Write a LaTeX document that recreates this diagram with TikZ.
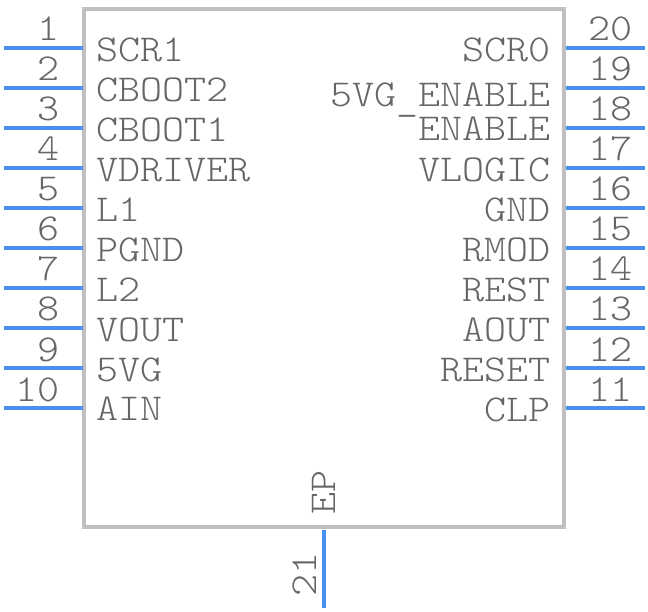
\documentclass[tikz,border=0pt]{standalone}
\usepackage{fontspec}
\setmonofont{Latin Modern Mono Light}
\definecolor{pinblue}{HTML}{4A90F0}
\definecolor{bodygray}{HTML}{BFBFBF}
\definecolor{textgray}{HTML}{666666}
\tikzset{
  bodyline/.style={draw=bodygray,line width=3.2pt},
  pinline/.style={draw=pinblue,line width=4pt},
  pintext/.style={inner sep=0pt,text=textgray,font=\fontsize{38}{40}\ttfamily},
  widetext/.style={pintext,xscale=1.105},
  uptext/.style={pintext,rotate=90,xscale=1.105},
}

\begin{document}
\begin{tikzpicture}[x=1pt,y=-1pt]
\useasboundingbox (0,0) rectangle (648,612);
\draw[bodyline] (84,9) rectangle (564,527);

% left side
\foreach \k/\lab/\dy in {1/SCR1/14,2/CBOOT2/14,3/CBOOT1/14,4/VDRIVER/13.5,5/L1/13.5,6/PGND/13.5,7/L2/13.5,8/VOUT/13.5,9/5VG/13.5,10/AIN/12.5} {
  \pgfmathsetmacro\py{48 + 40 * (\k - 1)}
  \coordinate (pl\k) at (3.5,\py);
  \coordinate (bl\k) at (82.5,\py);
  \draw[pinline] (pl\k) -- (bl\k);
  \node[widetext,anchor=base east] (nl\k) at (60,\py - 7) {\k};
  \node[widetext,anchor=base west] (tl\k) at (96.5,\py + \dy) {\lab};
}

% right side
\foreach \k/\lab/\dy in {20/SCR0/14,19/5VG\raisebox{-4pt}{\_}ENABLE/18.5,18/ENABLE/12.5,17/VLOGIC/13.5,16/GND/13.5,15/RMOD/13.5,14/REST/13.5,13/AOUT/13.5,12/RESET/13.5,11/CLP/13} {
  \pgfmathsetmacro\py{48 + 40 * (20 - \k)}
  \coordinate (pr\k) at (645,\py);
  \coordinate (br\k) at (565.5,\py);
  \draw[pinline] (br\k) -- (pr\k);
  \node[widetext,anchor=base west] (nr\k) at (588,\py - 7) {\k};
  \node[widetext,anchor=base east] (tr\k) at (551,\py + \dy) {\lab};
}

% exposed pad
\coordinate (pb21) at (324,608);
\coordinate (bb21) at (324,529.5);
\draw[pinline] (bb21) -- (pb21);
\node[uptext,anchor=base west] (nb21) at (316.5,597) {21};
\node[uptext,anchor=base west] (tb21) at (335,515) {EP};
\end{tikzpicture}
\end{document}
